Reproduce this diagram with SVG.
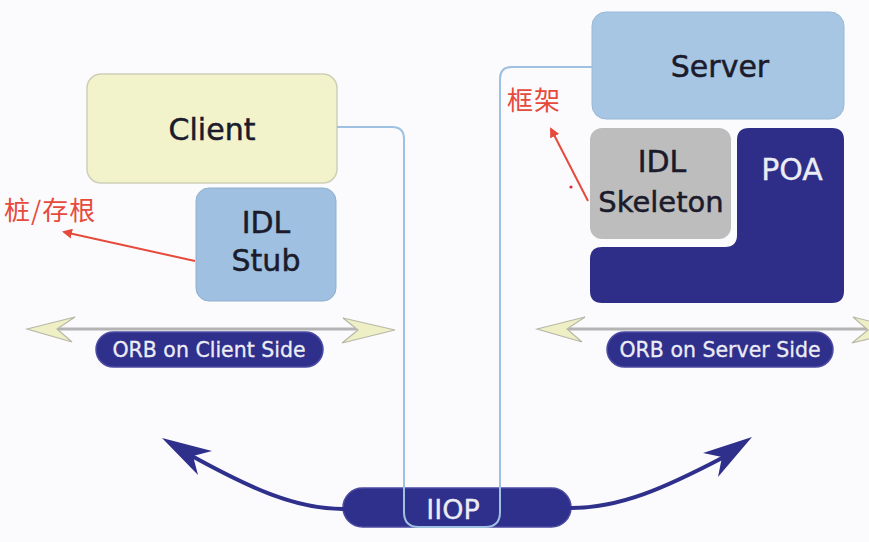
<svg xmlns="http://www.w3.org/2000/svg" width="869" height="542" viewBox="0 0 869 542">
<style>
.lbl{font-family:"DejaVu Sans","Liberation Sans",sans-serif;text-anchor:middle;fill:#1b1b2b;stroke:#1b1b2b;stroke-width:0.5}
.big{font-size:30px}
.wt{fill:#ececf4;stroke:#ececf4;stroke-width:0.3}
.pill{fill:#2f2f8c;stroke:#4b4ba2;stroke-width:1.5}
.cn{font-family:"Noto Sans CJK SC","DejaVu Sans",sans-serif;fill:#e64a3c;font-size:26px;letter-spacing:1px}
.wire{fill:none;stroke:#9ec1e2;stroke-width:2}
.orbline{stroke:#b4b4b4;stroke-width:3}
.orbhead{fill:#efefc6;stroke:#b8b8a8;stroke-width:1.2}
.nav{fill:none;stroke:#2f2f8c;stroke-width:4;stroke-linecap:round}
.navhead{fill:#2f2f8c}
.red{stroke:#e64a3c;stroke-width:2;fill:none}
</style>
<defs>
<marker id="rarrow" markerWidth="10" markerHeight="10" refX="8" refY="5" orient="auto" markerUnits="userSpaceOnUse">
<path d="M0,0 L10,5 L0,10 Z" fill="#e64a3c"/>
</marker>
</defs>
<rect width="869" height="542" fill="#fbfbfd"/>

<g id="client">
<rect x="87" y="74" width="250" height="109" rx="14" fill="#f2f2cb" stroke="#cfcfb8" stroke-width="1.5"/>
<text class="lbl big" x="212" y="140">Client</text>
</g>
<g id="idl-stub">
<rect x="196" y="188" width="140" height="113" rx="13" fill="#9fc0e0" stroke="#8fb0d0" stroke-width="1"/>
<text class="lbl big" x="266" y="233">IDL</text>
<text class="lbl big" x="266" y="271">Stub</text>
</g>
<g id="stub-label">
<text class="cn" x="4" y="220">桩/存根</text>
</g>

<g id="server">
<rect x="592" y="12" width="252" height="107" rx="14" fill="#a6c6e4" stroke="#98b8d8" stroke-width="1"/>
<text class="lbl big" x="720" y="77">Server</text>
</g>
<g id="poa">
<path d="M749 128 H832 Q844 128 844 140 V291 Q844 303 832 303 H602 Q590 303 590 291 V259 Q590 247 602 247 H725 Q737 247 737 235 V140 Q737 128 749 128 Z" fill="#2e2e88"/>
<text class="lbl big wt" x="792" y="180">POA</text>
</g>
<g id="idl-skeleton">
<rect x="590" y="128" width="141" height="111" rx="12" fill="#bdbdbd"/>
<text class="lbl big" x="662" y="172">IDL</text>
<text class="lbl" font-size="29" x="661" y="212">Skeleton</text>
</g>
<g id="skeleton-label">
<text class="cn" x="507" y="110">框架</text>
</g>

<g id="orb-client">
<line class="orbline" x1="55" y1="329" x2="362" y2="329"/>
<polygon class="orbhead" points="27,329 75,317 57,329 72,342"/>
<polygon class="orbhead" points="395,330 343,318 358,330 342,343"/>
<rect class="pill" x="96" y="332" width="227" height="35" rx="17.5"/>
<text class="lbl wt" font-size="20.5" x="209" y="357">ORB on Client Side</text>
</g>
<g id="orb-server">
<line class="orbline" x1="565" y1="329" x2="869" y2="329"/>
<polygon class="orbhead" points="537,329 585,317 567,329 582,342"/>
<polygon class="orbhead" points="905,330 853,317 868,330 852,343"/>
<rect class="pill" x="607" y="332" width="226" height="35" rx="17.5"/>
<text class="lbl wt" font-size="20.5" x="720" y="357">ORB on Server Side</text>
</g>

<g id="iiop">
<rect class="pill" x="343" y="488" width="228" height="39" rx="19.5"/>
<text class="lbl wt" font-size="27" x="453" y="519">IIOP</text>
</g>

<g id="connectors">
<path class="wire" d="M337 127 H392 Q404 127 404 139 V512 Q404 527 419 527 H452"/>
<path class="wire" d="M592 67 H512 Q500 67 500 79 V512 Q500 527 485 527 H452"/>
<path class="red" d="M195 261 L64 232" marker-end="url(#rarrow)"/>
<path class="red" d="M588 201 L551 129" marker-end="url(#rarrow)"/>
<circle cx="571" cy="187" r="1.6" fill="#d8303a"/>
<path class="nav" d="M343 509 C295 509 250 488 190 455"/>
<polygon class="navhead" points="162,438 212,451 193,456 198,475"/>
<path class="nav" d="M571 508 C620 508 665 488 724 457"/>
<polygon class="navhead" points="752,437 703,453 722,457 718,477"/>
</g>
</svg>
